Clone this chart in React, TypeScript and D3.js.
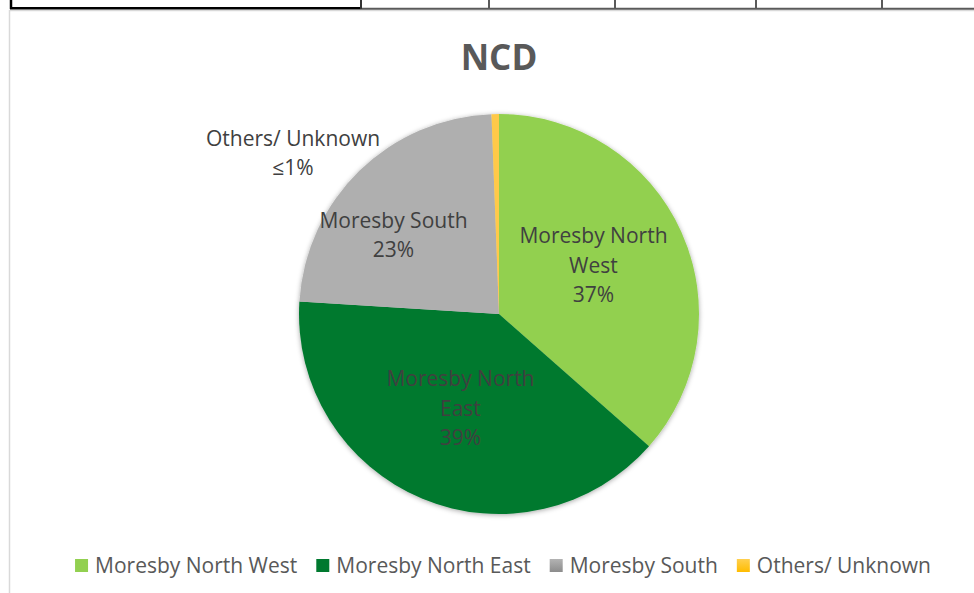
import React, { useEffect, useRef } from "react";
import * as d3 from "d3";

const categories = ["Moresby North West", "Moresby North East", "Moresby South", "Others/ Unknown"];
const values = [36.5, 39.5, 23.4, 0.6];
const labelLines = [
  ["Moresby North", "West", "37%"],
  ["Moresby North", "East", "39%"],
  ["Moresby South", "23%"],
  ["Others/ Unknown", "≤1%"],
];
const title = "NCD";
const tableCols = [10, 361, 489, 615, 756, 882, 974];

const W = 974;
const H = 593;
const CX = 499;
const CY = 314;
const R = 200;
const colors = ["#92d050", "#00792f", "url(#gGray)", "url(#gGold)"];
const swatch = ["#92d050", "#00792f", "url(#gGraySw)", "url(#gGoldSw)"];
const labelPolar: [number, number][] = [
  [62.6, 106.4],
  [202.3, 101.6],
  [306.8, 131.8],
  [308, 261.4],
];
const labelFill = "#404040";
const FONT = "'Open Sans', sans-serif";

export default function App() {
  const ref = useRef<SVGSVGElement>(null);
  useEffect(() => {
    const svg = d3.select(ref.current);
    svg.selectAll("*").remove();
    const defs = svg.append("defs");
    const grad = (id: string, c1: string, c2: string, y1: number, y2: number, user: boolean) => {
      const g = defs.append("linearGradient").attr("id", id).attr("x1", 0).attr("x2", 0);
      if (user) g.attr("gradientUnits", "userSpaceOnUse").attr("y1", y1).attr("y2", y2);
      else g.attr("y1", 0).attr("y2", 1);
      g.append("stop").attr("offset", "0%").attr("stop-color", c1);
      g.append("stop").attr("offset", "100%").attr("stop-color", c2);
    };
    grad("gGray", "#afafaf", "#858585", CY - R, CY + R, true);
    grad("gGold", "#ffc94a", "#ffb800", CY - R, CY + R, true);
    grad("gGraySw", "#b3b3b3", "#8c8c8c", 0, 1, false);
    grad("gGoldSw", "#ffd04f", "#ffbc00", 0, 1, false);
    const f = defs.append("filter").attr("id", "sh").attr("x", "-10%").attr("y", "-10%").attr("width", "120%").attr("height", "120%");
    f.append("feDropShadow").attr("dx", 0).attr("dy", 1).attr("stdDeviation", 2.5).attr("flood-color", "#000").attr("flood-opacity", 0.35);

    svg.append("rect").attr("width", W).attr("height", H).attr("fill", "#fff");

    // chart area border
    svg.append("path").attr("d", `M9.5,${H}V10.5H${W}`).attr("fill", "none").attr("stroke", "#d9d9d9").attr("stroke-width", 1.5);

    // spreadsheet table row above
    svg.append("line").attr("x1", tableCols[1]).attr("x2", W).attr("y1", 8.7).attr("y2", 8.7).attr("stroke", "#5a5a5a").attr("stroke-width", 2);
    svg.append("line").attr("x1", tableCols[0]).attr("x2", tableCols[1]).attr("y1", 8.2).attr("y2", 8.2).attr("stroke", "#000").attr("stroke-width", 2.5);
    svg.append("line").attr("x1", tableCols[0] + 1).attr("x2", tableCols[0] + 1).attr("y1", 0).attr("y2", 9).attr("stroke", "#000").attr("stroke-width", 2.5);
    tableCols.slice(1, -1).forEach((x, i) => {
      svg.append("line").attr("x1", x).attr("x2", x).attr("y1", 0).attr("y2", 9)
        .attr("stroke", i === 0 ? "#333" : "#5a5a5a").attr("stroke-width", 2);
    });

    // title
    svg.append("text").attr("x", CX).attr("y", 70).attr("text-anchor", "middle")
      .attr("font-family", FONT).attr("font-weight", 700).attr("font-size", 35).attr("fill", "#595959").text(title);

    const pie = d3.pie<number>().sort(null).value((d) => d)(values);
    const arc = d3.arc<d3.PieArcDatum<number>>().innerRadius(0).outerRadius(R);
    const g = svg.append("g").attr("transform", `translate(${CX},${CY})`);
    const slices = g.append("g").attr("filter", "url(#sh)");
    slices.selectAll("path").data(pie).join("path")
      .attr("d", arc as any)
      .attr("fill", (_d, i) => colors[i]);

    // labels
    labelPolar.forEach(([ang, dist], i) => {
      const a = (ang * Math.PI) / 180;
      const x = CX + dist * Math.sin(a);
      const yc = CY - dist * Math.cos(a);
      const lines = labelLines[i];
      const lh = 29.3;
      const capH = 15;
      const firstBase = yc - ((lines.length - 1) * lh + capH) / 2 + capH;
      const t = svg.append("text").attr("text-anchor", "middle").attr("font-family", FONT)
        .attr("font-size", 21).attr("fill", labelFill);
      lines.forEach((ln, j) => {
        t.append("tspan").attr("x", x).attr("y", firstBase + j * lh).text(ln);
      });
    });

    // legend
    const leg = svg.append("g");
    const items = categories.map((c, i) => {
      const gi = leg.append("g");
      gi.append("rect").attr("x", 0).attr("y", -14).attr("width", 13).attr("height", 13).attr("fill", swatch[i]);
      const tx = gi.append("text").attr("x", 20).attr("y", 0).attr("font-family", FONT).attr("font-size", 21)
        .attr("fill", "#595959").text(c);
      const w = (tx.node() as SVGTextElement).getComputedTextLength();
      return { gi, w: 20 + w };
    });
    const gap = 19;
    const total = items.reduce((s, it) => s + it.w, 0) + gap * (items.length - 1);
    let x0 = 503 - total / 2;
    items.forEach((it) => {
      it.gi.attr("transform", `translate(${x0},${573})`);
      x0 += it.w + gap;
    });
  }, []);
  return (
    <svg ref={ref} width={W} height={H} style={{ position: "absolute", left: 0, top: 0, display: "block" }} />
  );
}
